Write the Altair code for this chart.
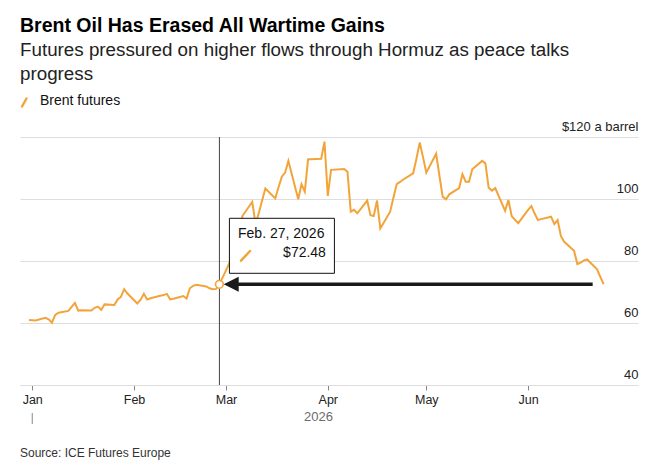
import altair as alt
import pandas as pd

# ---------------- data ----------------
dates = [
    "2025-12-31", "2026-01-02", "2026-01-05", "2026-01-06", "2026-01-07", "2026-01-08",
    "2026-01-09", "2026-01-12", "2026-01-13", "2026-01-14", "2026-01-15", "2026-01-16",
    "2026-01-19", "2026-01-20", "2026-01-21", "2026-01-22", "2026-01-23", "2026-01-26",
    "2026-01-27", "2026-01-28", "2026-01-29", "2026-01-30", "2026-02-02", "2026-02-03",
    "2026-02-04", "2026-02-05", "2026-02-06", "2026-02-09", "2026-02-10", "2026-02-11",
    "2026-02-12", "2026-02-13", "2026-02-16", "2026-02-17", "2026-02-18", "2026-02-19",
    "2026-02-20", "2026-02-23", "2026-02-24", "2026-02-25", "2026-02-26", "2026-02-27",
    "2026-03-02", "2026-03-03", "2026-03-04", "2026-03-05", "2026-03-06", "2026-03-09",
    "2026-03-10", "2026-03-11", "2026-03-12", "2026-03-13", "2026-03-16", "2026-03-17",
    "2026-03-18", "2026-03-19", "2026-03-20", "2026-03-23", "2026-03-24", "2026-03-25",
    "2026-03-26", "2026-03-27", "2026-03-30", "2026-03-31", "2026-04-01", "2026-04-02",
    "2026-04-06", "2026-04-07", "2026-04-08", "2026-04-09", "2026-04-10", "2026-04-13",
    "2026-04-14", "2026-04-15", "2026-04-16", "2026-04-17", "2026-04-20", "2026-04-21",
    "2026-04-22", "2026-04-23", "2026-04-24", "2026-04-27", "2026-04-28", "2026-04-29",
    "2026-04-30", "2026-05-01", "2026-05-04", "2026-05-05", "2026-05-06", "2026-05-07",
    "2026-05-08", "2026-05-11", "2026-05-12", "2026-05-13", "2026-05-14", "2026-05-15",
    "2026-05-18", "2026-05-19", "2026-05-20", "2026-05-21", "2026-05-22", "2026-05-25",
    "2026-05-26", "2026-05-27", "2026-05-28", "2026-05-29", "2026-06-01", "2026-06-02",
    "2026-06-03", "2026-06-04", "2026-06-05", "2026-06-08", "2026-06-09", "2026-06-10",
    "2026-06-11", "2026-06-12", "2026-06-15", "2026-06-16", "2026-06-17", "2026-06-18",
    "2026-06-19", "2026-06-22", "2026-06-23", "2026-06-24",
]
prices = [
    61.0, 60.8, 61.7, 61.2, 60.1, 62.6,
    63.3, 63.9, 65.2, 66.5, 64.0, 64.1,
    64.0, 64.9, 65.3, 64.2, 66.0, 65.8,
    67.6, 68.4, 70.9, 69.5, 66.3, 67.5,
    69.4, 67.6, 68.0, 68.8, 69.0, 69.4,
    67.6, 67.8, 68.7, 67.9, 71.2, 72.0,
    72.3, 71.8, 71.2, 70.9, 71.0, 72.48,
    79.2, 82.0, 84.0, 87.5, 94.5, 99.1,
    92.0, 95.5, 99.5, 103.4, 100.2, 103.8,
    107.2, 108.5, 112.3, 99.9, 104.8, 102.4,
    112.8, 112.8, 113.0, 118.5, 101.0, 109.4,
    109.7, 108.8, 95.9, 96.5, 95.4, 99.5,
    94.8, 94.5, 99.5, 90.5, 95.9, 100.5,
    104.8, 105.5, 106.3, 108.3, 113.0, 118.2,
    113.5, 108.5, 114.6, 107.5, 100.7, 99.9,
    101.5, 103.5, 108.0, 105.6, 105.6, 109.6,
    112.3, 111.5, 103.6, 102.7, 103.5, 96.2,
    99.7, 94.5, 93.3, 92.2, 96.5, 97.7,
    95.3, 93.2, 93.5, 94.3, 91.9, 93.2,
    88.0, 86.2, 83.3, 79.0, 79.5, 80.2,
    80.5, 77.3, 74.9, 72.5,
]

mark_date = ["2026-02-27"]
mark_price = [72.48]
mark_label = ["Feb. 27, 2026"]
mark_value_label = ["$72.48"]
arrow_end = ["2026-06-20T16:00:00Z"]

month_ticks = [1, 2, 3, 4, 5, 6]
y_ticks = [40, 60, 80, 100, 120]

# ---------------- style ----------------
FONT = "Liberation Sans"
ORANGE = "#f2a43a"
INK = "#1a1a1a"

df = pd.DataFrame({"date": dates, "price": prices})
ann = pd.DataFrame({
    "date": mark_date, "price": mark_price, "label": mark_label,
    "vlabel": mark_value_label, "end": arrow_end,
})
year_tick = pd.DataFrame({"date": ["2026-01-01"]})

x_scale = alt.Scale(
    type="utc",
    domain=[
        alt.DateTime(year=2025, month=12, date=28, hours=6, minutes=30, utc=True),
        alt.DateTime(year=2026, month=7, date=4, hours=11, minutes=20, utc=True),
    ],
)
y_scale = alt.Scale(domain=[40, 120], nice=False, zero=False)

x_axis = alt.Axis(
    values=[alt.DateTime(year=2026, month=m, date=1, utc=True) for m in month_ticks],
    format="%b",
    grid=False,
    domainColor="#dedede",
    tickColor="#888888",
    tickSize=5,
    labelPadding=3,
    labelFont=FONT,
    labelFontSize=12.5,
    labelColor="#222222",
    labelFlush=False,
    labelOverlap=False,
    title="2026",
    titleFont=FONT,
    titleFontSize=13,
    titleFontWeight="normal",
    titleColor="#6b6b6b",
    titleX=298,
    titleY=35,
    titleAlign="center",
    titleBaseline="alphabetic",
)
y_axis = alt.Axis(
    orient="right",
    values=y_ticks,
    grid=True,
    gridColor="#dedede",
    gridWidth=1,
    domain=False,
    ticks=False,
    tickSize=0,
    labelPadding=0,
    labelAlign="right",
    labelBaseline="alphabetic",
    labelOffset=-7,
    labelFont=FONT,
    labelFontSize=13,
    labelColor="#222222",
    labelFlush=False,
    labelOverlap=False,
    labelExpr="datum.value == 120 ? '$120 a barrel' : datum.label",
    title=None,
)

line = alt.Chart(df).mark_line(color=ORANGE, strokeWidth=2).encode(
    x=alt.X("date:T", scale=x_scale, axis=x_axis),
    y=alt.Y("price:Q", scale=y_scale, axis=y_axis),
)

vrule = alt.Chart(ann).mark_rule(color="#444444", strokeWidth=1).encode(x="date:T")

shaft = alt.Chart(ann).mark_rule(color=INK, strokeWidth=3.5, xOffset=12).encode(
    x="date:T", x2="end:T", y="price:Q"
)
head = alt.Chart(ann).mark_point(
    shape="M0,0L2,-1L2,1Z", size=225, filled=True, color=INK, opacity=1, xOffset=4.3
).encode(x="date:T", y="price:Q")

dot = alt.Chart(ann).mark_point(
    shape="circle", size=60, fill="white", stroke=ORANGE, strokeWidth=1.6,
    fillOpacity=1, strokeOpacity=1, opacity=1,
).encode(x="date:T", y="price:Q")

box = alt.Chart(ann).mark_rect(
    fill="white", stroke="#111111", strokeWidth=1,
    xOffset=10, x2Offset=115, yOffset=-66, y2Offset=-11,
).encode(x="date:T", x2="date:T", y="price:Q", y2="price:Q")

box_date = alt.Chart(ann).mark_text(
    align="left", baseline="alphabetic", font=FONT, fontSize=14, color="#111111",
    xOffset=18.6, yOffset=-46,
).encode(x="date:T", y="price:Q", text="label:N")

box_value = alt.Chart(ann).mark_text(
    align="right", baseline="alphabetic", font=FONT, fontSize=14, color="#111111",
    xOffset=106.5, yOffset=-27,
).encode(x="date:T", y="price:Q", text="vlabel:N")

box_icon = alt.Chart(ann).mark_rule(
    color=ORANGE, strokeWidth=2.5, strokeCap="round",
    xOffset=21.6, x2Offset=30.6, yOffset=-23.6, y2Offset=-33.3,
).encode(x="date:T", x2="date:T", y="price:Q", y2="price:Q")

legend_icon = alt.Chart(ann).mark_rule(
    color=ORANGE, strokeWidth=2.5, strokeCap="round"
).encode(x=alt.value(2), x2=alt.value(6.5), y=alt.value(-30.5), y2=alt.value(-38.5))

legend_text = alt.Chart(ann).mark_text(
    align="left", baseline="alphabetic", font=FONT, fontSize=14, color="#111111"
).encode(x=alt.value(20), y=alt.value(-32.5), text=alt.value("Brent futures"))

source = alt.Chart(ann).mark_text(
    align="left", baseline="alphabetic", font=FONT, fontSize=12, color="#333333"
).encode(x=alt.value(0), y=alt.value(320), text=alt.value("Source: ICE Futures Europe"))

year_sep = alt.Chart(year_tick).mark_rule(color="#888888", strokeWidth=1).encode(
    x="date:T", y=alt.value(276), y2=alt.value(287)
)

chart = alt.layer(
    line, vrule, shaft, head, dot, box, box_date, box_value, box_icon,
    legend_icon, legend_text, source, year_sep,
).properties(
    width=618,
    height=248,
    autosize="none",
    padding={"left": 12, "top": 129, "right": 7, "bottom": 80},
    background="white",
    title=alt.TitleParams(
        text="Brent Oil Has Erased All Wartime Gains",
        subtitle=["Futures pressured on higher flows through Hormuz as peace talks", "progress"],
        anchor="start",
        frame="group",
        orient="top",
        font=FONT,
        fontSize=19.5,
        fontWeight="bold",
        color="#000000",
        subtitleFont=FONT,
        subtitleFontSize=18.8,
        subtitleColor="#222222",
        subtitleLineHeight=23.5,
        subtitlePadding=5,
        offset=9,
    ),
).configure_view(strokeWidth=0)

chart.save("out.html", embed_options={"renderer": "svg", "actions": False})
